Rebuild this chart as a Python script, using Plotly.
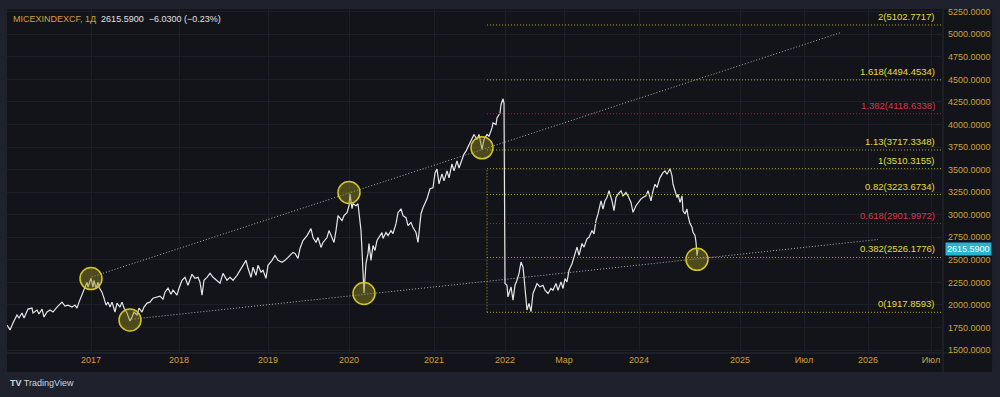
import plotly.graph_objects as go

# ---------------- data ----------------
# bar index (TradingView-style bar axis) and close values
bars = [0, 3, 6, 10, 12, 15, 17, 21, 25, 26, 30, 32, 35, 37, 40, 43, 46, 50, 55, 58,
        61, 65, 68, 70, 72, 75, 78, 80, 81, 84, 86, 87, 89, 91, 92, 95, 97, 99, 101, 103,
        105, 108, 110, 113, 115, 117, 120, 123, 125, 127, 130, 132, 135, 137, 140, 143, 146, 150, 153, 156,
        158, 161, 164, 166, 170, 172, 175, 178, 181, 185, 188, 191, 193, 195, 197, 200, 203, 206, 210, 213,
        216, 220, 223, 226, 230, 233, 236, 239, 241, 244, 246, 249, 251, 254, 256, 259, 261, 265, 268, 271,
        275, 278, 281, 286, 288, 291, 293, 296, 300, 304, 306, 309, 311, 314, 316, 320, 322, 325, 327, 329,
        331, 335, 337, 340, 342, 343, 345, 346, 349, 351, 352, 354, 355, 356, 357, 359, 361, 362, 364, 366,
        368, 370, 372, 375, 376, 379, 381, 384, 386, 389, 391, 394, 396, 399, 401, 404, 406, 409, 411, 414,
        416, 420, 423, 426, 428, 430, 432, 435, 437, 440, 442, 445, 447, 450, 452, 455, 457, 459, 463, 467,
        470, 472, 475, 477, 480, 482, 485, 486, 489, 490, 493, 494, 496, 497, 498, 500, 501, 504, 506, 508,
        510, 512, 514, 516, 517, 519, 520, 522, 524, 526, 528, 530, 533, 536, 538, 541, 544, 546, 549, 551,
        554, 556, 558, 560, 562, 565, 567, 570, 572, 575, 577, 580, 582, 585, 587, 589, 591, 594, 596, 598,
        600, 602, 605, 607, 609, 611, 614, 616, 619, 621, 624, 626, 629, 631, 634, 636, 639, 641, 644, 646,
        648, 650, 653, 656, 658, 660, 663, 665, 666, 668, 670, 671, 673, 675, 676, 678, 680, 681, 683, 685,
        686, 688, 689, 690, 691]
closes = [1778, 1723, 1800, 1888, 1855, 1910, 1855, 1954, 1965, 1910, 1943, 1899, 1954, 1866, 1921, 1943, 1921, 1976, 2031, 1987,
          1998, 1976, 1998, 1965, 2031, 2108, 2196, 2251, 2196, 2295, 2196, 2273, 2185, 2251, 2196, 2141, 2075, 1998, 2031, 1976,
          2031, 1921, 2020, 1976, 2031, 1965, 1910, 1822, 1866, 1921, 1888, 1965, 1921, 1976, 2020, 2031, 2075, 2086, 2097, 2064,
          2141, 2185, 2119, 2163, 2108, 2185, 2273, 2306, 2218, 2339, 2295, 2306, 2251, 2108, 2273, 2306, 2350, 2306, 2273, 2240,
          2350, 2273, 2306, 2273, 2328, 2383, 2439, 2494, 2406, 2306, 2417, 2328, 2439, 2362, 2383, 2295, 2439, 2494, 2549, 2494,
          2472, 2494, 2527, 2582, 2571, 2516, 2626, 2714, 2769, 2846, 2747, 2692, 2747, 2637, 2692, 2747, 2824, 2747, 2692, 2824,
          2989, 2934, 2989, 3022, 3099, 3231, 3066, 3121, 3099, 3121, 3011, 2824, 2604, 2306, 2130, 2461, 2571, 2681, 2494, 2659,
          2604, 2714, 2747, 2802, 2736, 2802, 2769, 2824, 2791, 2901, 3022, 3066, 2989, 2967, 2879, 2912, 2857, 2802, 2692, 3011,
          3077, 3176, 3287, 3298, 3463, 3507, 3342, 3452, 3375, 3485, 3408, 3562, 3485, 3595, 3518, 3617, 3672, 3705, 3796, 3889,
          3834, 3889, 3724, 3834, 3889, 3870, 3962, 4017, 3999, 4072, 4127, 4219, 4285, 4237, 2237, 2218, 2089, 2200, 2053, 2218,
          2273, 2347, 2475, 2420, 2310, 2053, 1943, 2017, 1925, 2127, 2182, 2237, 2200, 2218, 2163, 2127, 2182, 2163, 2237, 2163,
          2255, 2182, 2292, 2255, 2383, 2457, 2530, 2640, 2549, 2681, 2640, 2733, 2750, 2824, 2788, 2934, 3008, 3154, 3063, 3154,
          3191, 3265, 3154, 3044, 3191, 3228, 3265, 3209, 3246, 3209, 3136, 3026, 3099, 3136, 3176, 3191, 3209, 3265, 3154, 3265,
          3338, 3301, 3411, 3466, 3485, 3448, 3510, 3430, 3338, 3265, 3191, 3228, 3136, 3209, 3044, 3008, 3063, 2989, 2901, 2860,
          2805, 2769, 2695, 2545, 2615.59]

# time axis ticks (bar positions) and labels
time_tick_bars = [84, 172, 261, 342, 427, 498, 557, 632, 733, 797, 861, 924]
time_tick_labels = ["2017", "2018", "2019", "2020", "2021", "2022", "Мар", "2024", "2025", "Июл", "2026", "Июл"]

# price axis ticks
price_ticks = [1500, 1750, 2000, 2250, 2500, 2750, 3000, 3250, 3500, 3750, 4000, 4250, 4500, 4750, 5000, 5250]

# Fibonacci extension levels (ratio, price) as labelled on the chart
fib_ratios = ["0", "0.382", "0.618", "0.82", "1", "1.13", "1.382", "1.618", "2"]
fib_prices = [1917.8593, 2526.1776, 2901.9972, 3223.6734, 3510.3155, 3717.3348, 4118.6338, 4494.4534, 5102.7717]
fib_red = ["0.618", "1.382"]
fib_start_bar = 480

# trend lines (start bar, start price, end bar, end price)
upper_trend_bars = [84.7, 833]
upper_trend_prices = [2310, 5016]
lower_trend_bars = [124.7, 871]
lower_trend_prices = [1841, 2725]

# highlighted pivot points
pivot_bars = [84, 123, 342, 357, 475, 690]
pivot_prices = [2292, 1833, 3246, 2127, 3741, 2505]

last_price = 2615.59

# ---------------- styles ----------------
FONT = "Liberation Sans, Arial, sans-serif"
GOLD = "#d1a03c"
YELLOW = "#e8dc3c"
YELLOW_LINE = "#b3a71c"
RED = "#d63848"
RED_LINE = "#a02430"
PANE = "#121419"
FRAME = "#1f222c"
GRID = "#1c1f27"
DOT = "1px,2px"

fig = go.Figure()

# trend lines
fig.add_trace(go.Scatter(x=upper_trend_bars, y=upper_trend_prices, mode="lines",
                         line=dict(color="#b0b0b0", width=1, dash=DOT), hoverinfo="skip"))
fig.add_trace(go.Scatter(x=lower_trend_bars, y=lower_trend_prices, mode="lines",
                         line=dict(color="#b0b0b0", width=1, dash=DOT), hoverinfo="skip"))

# price line
fig.add_trace(go.Scatter(x=bars, y=closes, mode="lines",
                         line=dict(color="#e6e6e6", width=1.2), hoverinfo="skip"))

# pivot circles
fig.add_trace(go.Scatter(x=pivot_bars, y=pivot_prices, mode="markers",
                         marker=dict(size=22, color="rgba(150,140,30,0.45)",
                                     line=dict(color="#d4c62a", width=1.5)),
                         hoverinfo="skip"))

x_max = 936

shapes = []
# dark area behind the axes (price axis and time axis)
shapes.append(dict(type="rect", xref="paper", yref="paper", x0=0, x1=1.0524, y0=-0.0549, y1=1,
                   fillcolor=PANE, line=dict(width=0), layer="below"))
shapes.append(dict(type="line", xref="paper", yref="paper", x0=0, x1=1.0524, y0=0, y1=0,
                   line=dict(color="#272a33", width=1), layer="below"))
shapes.append(dict(type="line", xref="paper", yref="paper", x0=1, x1=1, y0=-0.0549, y1=1,
                   line=dict(color="#272a33", width=1), layer="below"))

annotations = []
for r, p in zip(fib_ratios, fib_prices):
    red = r in fib_red
    shapes.append(dict(type="line", xref="x", yref="y", x0=fib_start_bar, x1=x_max, y0=p, y1=p,
                       line=dict(color=RED_LINE if red else YELLOW_LINE, width=1, dash=DOT)))
    annotations.append(dict(xref="paper", yref="y", x=0.9936, y=p, xanchor="right", yanchor="bottom",
                            yshift=1, showarrow=False, text=f"{r}({p:.4f})",
                            font=dict(family=FONT, size=9.5, color=RED if red else YELLOW)))
# left edge of fib box
shapes.append(dict(type="line", xref="x", yref="y", x0=fib_start_bar, x1=fib_start_bar,
                   y0=fib_prices[0], y1=fib_prices[4],
                   line=dict(color=YELLOW_LINE, width=1, dash=DOT)))

# header
annotations.append(dict(xref="paper", yref="paper", x=0.004, y=0.971, xanchor="left", yanchor="middle",
                        showarrow=False,
                        text=f"<span style='color:{GOLD}'>MICEXINDEXCF, 1Д</span>"
                             f"<span style='color:#e0e0e0'>  {last_price:.4f}  −6.0300 (−0.23%)</span>",
                        font=dict(family=FONT, size=9)))
# last price label
annotations.append(dict(xref="paper", yref="y", x=1.002, y=last_price, xanchor="left", yanchor="middle",
                        showarrow=False, text=f"{last_price:.4f}", bgcolor="#27b4cc",
                        borderpad=1, font=dict(family=FONT, size=9, color="#ffffff")))
# TradingView logo
annotations.append(dict(xref="paper", yref="paper", x=0.001, y=-0.087, xanchor="left", yanchor="middle",
                        showarrow=False, text="<b>TV</b> TradingView",
                        font=dict(family=FONT, size=9, color="#d1d4dc")))

fig.update_layout(
    width=1000, height=397,
    margin=dict(l=7, r=57, t=7, b=44),
    paper_bgcolor=FRAME, plot_bgcolor=PANE,
    showlegend=False,
    shapes=shapes, annotations=annotations,
    xaxis=dict(range=[0, x_max], tickvals=time_tick_bars, ticktext=time_tick_labels,
               showgrid=True, gridcolor=GRID, gridwidth=1, zeroline=False, showline=False,
               ticks="", tickfont=dict(family=FONT, size=9, color=GOLD), fixedrange=True),
    yaxis=dict(range=[1467, 5280], side="right", tickvals=price_ticks, tickformat=".4f",
               showgrid=True, gridcolor=GRID, gridwidth=1, zeroline=False, showline=False,
               ticks="", ticklabelstandoff=4,
               tickfont=dict(family=FONT, size=9, color=GOLD), fixedrange=True),
    font=dict(family=FONT),
)

fig.write_html("out.html", config={"displayModeBar": False},
               post_script="document.body.style.margin='0';document.body.style.background='%s';" % FRAME)
